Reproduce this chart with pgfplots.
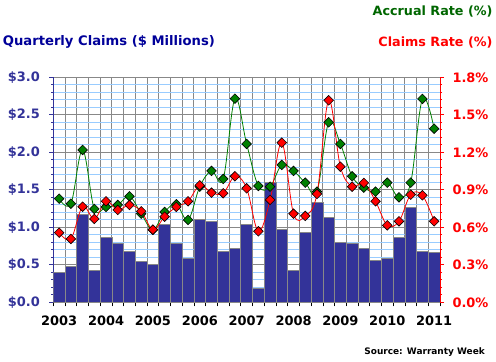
\documentclass[border=0pt]{standalone}
\usepackage{pgfplots}
\pgfplotsset{compat=1.18}
\usepackage{fontspec}
\setmainfont{DejaVu Sans}
\definecolor{barblue}{HTML}{333399}
\definecolor{navy}{HTML}{000099}
\definecolor{accgreen}{HTML}{006600}
\definecolor{lineg}{HTML}{008000}
\definecolor{lblue}{HTML}{99CCFF}
\definecolor{grayg}{HTML}{888888}
\begin{document}
\begin{tikzpicture}
\path[use as bounding box] (0,0) rectangle (496bp,362bp);
\begin{axis}[
  at={(53.3bp,59.7bp)}, anchor=south west,
  scale only axis, width=386.7bp, height=225bp,
  xmin=0.5, xmax=33.5, ymin=0, ymax=3,
  axis x line*=bottom, axis y line*=left,
  x axis line style={black, line width=0.8bp, -},
  y axis line style={barblue, line width=0.8bp, -},
  xtick={0.5,1.5,...,33.5}, xticklabels={},
  extra x ticks={1,5,9,13,17,21,25,29,33},
  extra x tick labels={2003,2004,2005,2006,2007,2008,2009,2010,2011},
  extra x tick style={grid=none, major tick length=0pt},
  xticklabel style={font=\fontsize{13}{13}\selectfont\bfseries, black, yshift=-10bp},
  ytick={0,0.5,...,3}, minor y tick num=4,
  yticklabel={\$\pgfmathprintnumber[fixed,fixed zerofill,precision=1]{\tick}},
  yticklabel style={font=\fontsize{13}{13}\selectfont\bfseries, barblue, xshift=-6bp},
  /pgf/number format/assume math mode=true,
  tick align=outside, major tick length=4bp, minor tick length=2bp,
  every tick/.style={barblue, line width=0.6bp},
  x tick style={black},
  xmajorgrids, ymajorgrids, yminorgrids,
  major grid style={grayg, line width=0.9bp},
  minor grid style={lblue, line width=0.9bp},
]
\addplot[ybar, bar width=1, fill=barblue, draw=grayg, line width=0.6bp] coordinates {
(1,0.40) (2,0.48) (3,1.17) (4,0.42) (5,0.87) (6,0.79) (7,0.68) (8,0.55)
(9,0.51) (10,1.04) (11,0.79) (12,0.59) (13,1.11) (14,1.08) (15,0.68) (16,0.72)
(17,1.04) (18,0.19) (19,1.60) (20,0.97) (21,0.43) (22,0.93) (23,1.33) (24,1.13)
(25,0.80) (26,0.78) (27,0.72) (28,0.56) (29,0.58) (30,0.87) (31,1.27) (32,0.68) (33,0.67)
};
\end{axis}
\begin{axis}[
  at={(53.3bp,59.7bp)}, anchor=south west,
  scale only axis, width=386.7bp, height=225bp,
  xmin=0.5, xmax=33.5, ymin=0, ymax=1.8,
  axis x line=none, axis y line*=right,
  y axis line style={red, line width=0.8bp, -},
  ytick={0,0.3,0.6,0.9,1.2,1.5,1.8}, minor y tick num=4,
  yticklabel={\pgfmathprintnumber[fixed,fixed zerofill,precision=1]{\tick}\%},
  yticklabel style={font=\fontsize{13}{13}\selectfont\bfseries, red, xshift=5bp},
  /pgf/number format/assume math mode=true,
  tick align=outside, major tick length=4bp, minor tick length=2bp,
  every tick/.style={red, line width=0.6bp},
  clip=false,
]
\addplot[lineg, line width=0.8bp, smooth, tension=0.6, mark=square*,
  mark size=3.4bp, mark options={fill=lineg, draw=black, line width=0.6bp, rotate=45}] coordinates {
(1,0.829) (2,0.789) (3,1.219) (4,0.747) (5,0.763) (6,0.779) (7,0.848) (8,0.709)
(9,0.581) (10,0.723) (11,0.784) (12,0.659) (13,0.925) (14,1.051) (15,0.987) (16,1.629)
(17,1.267) (18,0.931) (19,0.925) (20,1.099) (21,1.051) (22,0.957) (23,0.885) (24,1.440)
(25,1.267) (26,1.008) (27,0.917) (28,0.885) (29,0.957) (30,0.840) (31,0.957) (32,1.627) (33,1.389)
};
\addplot[red, line width=0.8bp, smooth, tension=0.6, mark=square*,
  mark size=3.4bp, mark options={fill=red, draw=black, line width=0.6bp, rotate=45}] coordinates {
(1,0.557) (2,0.507) (3,0.765) (4,0.667) (5,0.808) (6,0.739) (7,0.779) (8,0.728)
(9,0.581) (10,0.685) (11,0.763) (12,0.808) (13,0.936) (14,0.877) (15,0.872) (16,1.008)
(17,0.912) (18,0.568) (19,0.819) (20,1.277) (21,0.709) (22,0.691) (23,0.867) (24,1.616)
(25,1.085) (26,0.925) (27,0.955) (28,0.808) (29,0.616) (30,0.648) (31,0.861) (32,0.856) (33,0.648)
};
\end{axis}
\node[anchor=west, inner sep=0pt, text=navy, font=\fontsize{13.2}{13.2}\selectfont\bfseries] at (2.7bp,320bp) {Quarterly Claims (\$ Millions)};
\node[anchor=east, inner sep=0pt, text=accgreen, font=\fontsize{12.8}{12.8}\selectfont\bfseries] at (492.7bp,350bp) {Accrual Rate (\%)};
\node[anchor=east, inner sep=0pt, text=red, font=\fontsize{12.8}{12.8}\selectfont\bfseries] at (492.7bp,320bp) {Claims Rate (\%)};
\node[anchor=east, inner sep=0pt, text=black, font=\fontsize{9}{9}\selectfont\bfseries] at (485bp,10bp) {Source: Warranty Week};
\end{tikzpicture}
\end{document}
